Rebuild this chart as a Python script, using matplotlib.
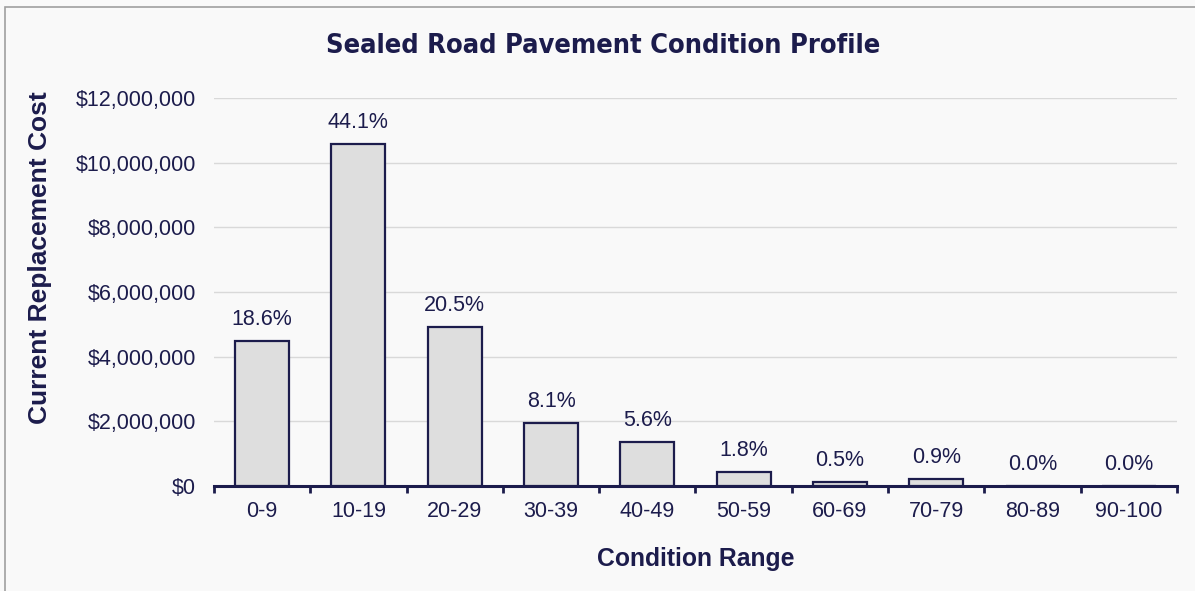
import matplotlib.pyplot as plt
import matplotlib.patches as patches
from matplotlib.ticker import FuncFormatter, MultipleLocator

# chart data
ranges = ['0-9', '10-19', '20-29', '30-39', '40-49', '50-59', '60-69', '70-79', '80-89', '90-100']
cost = [4470000, 10580000, 4920000, 1950000, 1350000, 430000, 120000, 220000, 0, 0]
pct_labels = ['18.6%', '44.1%', '20.5%', '8.1%', '5.6%', '1.8%', '0.5%', '0.9%', '0.0%', '0.0%']

navy = '#1c1c4c'
bg = '#f9f9f9'

fig = plt.figure(figsize=(11.95, 5.91), dpi=100, facecolor=bg)
ax = fig.add_axes([0.179, 0.1777, 0.806, 0.6565])
ax.set_facecolor(bg)

# outer border of the chart area
fig.patches.append(patches.Rectangle((5/1195, -0.1), 1.2, 1 - 7/591 + 0.1, transform=fig.transFigure,
                                     fill=False, edgecolor='#a0a0a0', linewidth=1.2))

x = range(len(ranges))
bars = ax.bar(x, cost, width=0.56, color='#dedede', edgecolor=navy, linewidth=1.6, zorder=3)

for b, lab in zip(bars, pct_labels):
    ax.annotate(lab, (b.get_x() + b.get_width()/2, b.get_height()), xytext=(0, 8),
                textcoords='offset points', ha='center', va='bottom',
                fontsize=15.5, color=navy, family='Liberation Sans')

ax.set_xlim(-0.5, len(ranges) - 0.5)
ax.set_ylim(0, 12000000)
ax.yaxis.set_major_locator(MultipleLocator(2000000))
ax.yaxis.set_major_formatter(FuncFormatter(lambda v, p: '${:,.0f}'.format(v)))
ax.grid(axis='y', color='#d9d9d9', linewidth=1, zorder=0)

ax.set_xticks(list(x))
ax.set_xticklabels(ranges)
# boundary tick marks between categories
ax.set_xticks([i - 0.5 for i in range(len(ranges) + 1)], minor=True)
ax.tick_params(axis='x', which='major', length=0, pad=11, labelsize=15.5, labelcolor=navy)
ax.tick_params(axis='x', which='minor', length=5, width=2, color=navy, direction='out')
ax.tick_params(axis='y', length=0, pad=13, labelsize=15.5, labelcolor=navy)
for lab in ax.get_xticklabels() + ax.get_yticklabels():
    lab.set_family('Liberation Sans')

for s in ['top', 'right', 'left']:
    ax.spines[s].set_visible(False)
ax.spines['bottom'].set_color(navy)
ax.spines['bottom'].set_linewidth(2.2)

ax.set_xlabel('Condition Range', fontsize=17.8, fontweight='bold', color=navy,
              family='Liberation Sans', labelpad=18)
ax.set_ylabel('Current Replacement Cost', fontsize=19, fontweight='bold', color=navy,
              family='Liberation Sans')
ax.yaxis.set_label_coords(-0.168, 0.588)

fig.text(0.505, 0.922, 'Sealed Road Pavement Condition Profile', ha='center', va='center',
         fontsize=19.5, fontweight='bold', color=navy,
         family=['DejaVu Sans Condensed', 'DejaVu Sans'], fontstretch='condensed')

fig.savefig('out.png', dpi=100, facecolor=bg)
